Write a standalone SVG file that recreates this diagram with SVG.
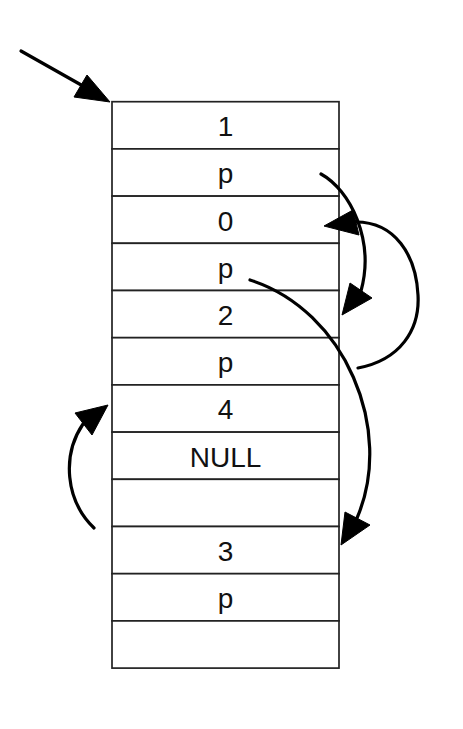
<svg xmlns="http://www.w3.org/2000/svg" width="463" height="729" viewBox="0 0 463 729">
<style>
.cell{fill:#fff;stroke:#222;stroke-width:1.7}
.lbl{font-family:"Liberation Sans",Arial,sans-serif;font-size:28px;fill:#111;text-anchor:middle}
.c{fill:none;stroke:#000;stroke-width:3.2;stroke-linecap:round}
.h{fill:#000;stroke:#000;stroke-width:1;stroke-linejoin:miter}
</style>
<rect width="463" height="729" fill="#fff"/>
<g id="list">
<g id="n0"><rect class="cell" x="112" y="101.7" width="227" height="47.2"/><text class="lbl" x="225.5" y="136.2">1</text></g>
<g id="n1"><rect class="cell" x="112" y="148.9" width="227" height="47.2"/><text class="lbl" x="225.5" y="183.4">p</text></g>
<g id="n2"><rect class="cell" x="112" y="196.1" width="227" height="47.2"/><text class="lbl" x="225.5" y="230.6">0</text></g>
<g id="n3"><rect class="cell" x="112" y="243.3" width="227" height="47.2"/><text class="lbl" x="225.5" y="277.8">p</text></g>
<g id="n4"><rect class="cell" x="112" y="290.5" width="227" height="47.2"/><text class="lbl" x="225.5" y="325">2</text></g>
<g id="n5"><rect class="cell" x="112" y="337.7" width="227" height="47.2"/><text class="lbl" x="225.5" y="372.2">p</text></g>
<g id="n6"><rect class="cell" x="112" y="384.9" width="227" height="47.2"/><text class="lbl" x="225.5" y="419.4">4</text></g>
<g id="n7"><rect class="cell" x="112" y="432.1" width="227" height="47.2"/><text class="lbl" x="225.5" y="466.6">NULL</text></g>
<g id="n8"><rect class="cell" x="112" y="479.3" width="227" height="47.2"/></g>
<g id="n9"><rect class="cell" x="112" y="526.5" width="227" height="47.2"/><text class="lbl" x="225.5" y="561">3</text></g>
<g id="n10"><rect class="cell" x="112" y="573.7" width="227" height="47.2"/><text class="lbl" x="225.5" y="608.2">p</text></g>
<g id="n11"><rect class="cell" x="112" y="620.9" width="227" height="47.2"/></g>
</g>
<g id="connectors">
<path class="c" d="M21 51 L83 86"/>
<polygon class="h" points="110,102 87,75 74,97"/>
<path class="c" d="M321 174 C350 190 375 240 361 291"/>
<polygon class="h" points="342,315 350,283 372,298"/>
<path class="c" d="M358 368 C400 360 420 330 418 295 C416 255 395 222 356 222"/>
<polygon class="h" points="324,226 353,210 359,235"/>
<path class="c" d="M250 280 C345 310 395 430 357 518"/>
<polygon class="h" points="341,545 345,512 370,525"/>
<path class="c" d="M94 528 C65 500 62 455 83 424"/>
<polygon class="h" points="108,405 75,413 92,435"/>
</g>
</svg>
